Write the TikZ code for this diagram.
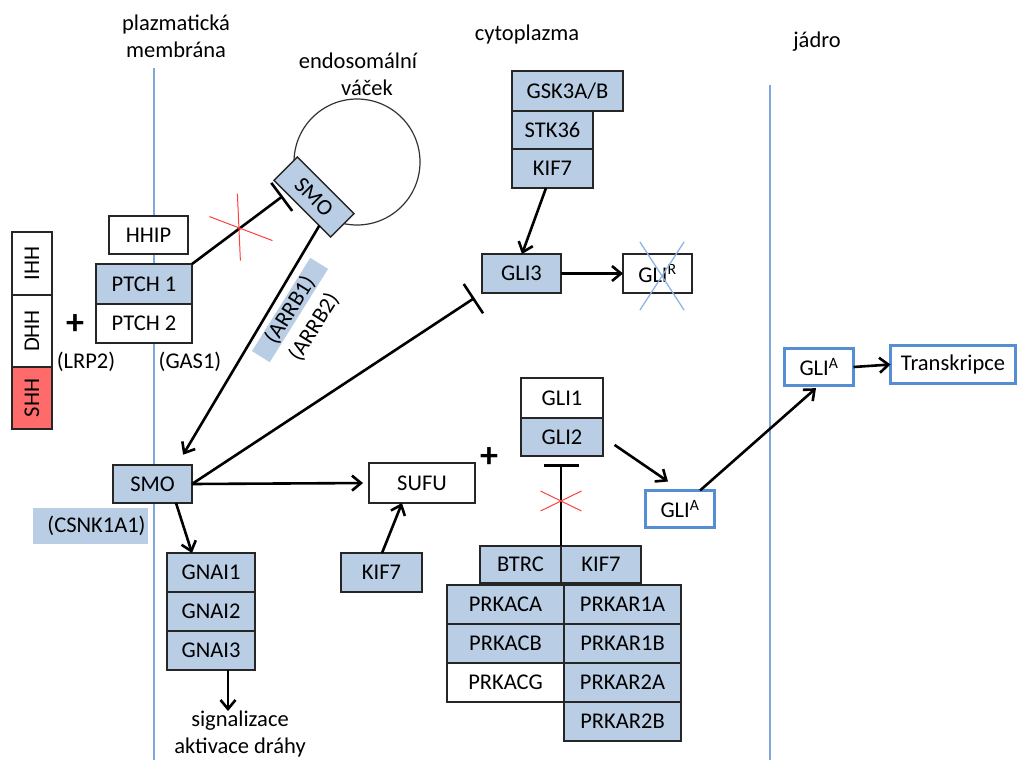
\documentclass[tikz,border=0pt]{standalone}
\usepackage{fontspec}
\setmainfont{Carlito}
\usetikzlibrary{positioning,calc,arrows.meta}

\definecolor{geneblue}{HTML}{B9CDE5}
\definecolor{gliblue}{HTML}{558ED5}
\definecolor{membblue}{HTML}{7FA7DC}
\definecolor{crossblue}{HTML}{8EB4E3}
\definecolor{shhred}{HTML}{FF6B6B}

\newcommand{\genefont}{\fontsize{22.5}{27}\selectfont}
\newcommand{\plusfont}{\bfseries\fontsize{36}{36}\selectfont}

\tikzset{
    gene/.style={draw=black!85, line width=1.4pt, fill=geneblue, outer sep=0pt,
        inner sep=0pt, minimum height=39pt, font=\genefont},
    plaingene/.style={gene, fill=white},
    glibox/.style={draw=gliblue, line width=3.5pt, fill=white, outer sep=0pt,
        inner sep=0pt, minimum height=37pt, font=\genefont},
    act/.style={line width=2.6pt, -{Straight Barb[length=9pt,width=15pt]}},
    inh/.style={line width=2.6pt, -{Bar[width=35pt]}},
    redcross/.style={red!75!white, line width=1pt},
    regiontext/.style={font=\genefont, align=center, inner sep=0pt}
}

\begin{document}
\begin{tikzpicture}[x=1pt, y=-1pt]
\useasboundingbox (0,0) rectangle (1024,760);

% membrana a jadro
\draw[membblue, line width=1.3pt] (154,68) -- (154,760);
\draw[membblue, line width=1.3pt] (770,85) -- (770,760);
\node[regiontext] (pmlab) at (176,36) {plazmatická\\membrána};
\node[regiontext] (endolab) at (358,74) {endosomální\\\hspace{18pt}váček};
\node[regiontext] (cytolab) at (527,35) {cytoplazma};
\node[regiontext] (nuclab) at (817,42) {jádro};

% endosom
\draw[black!80, line width=1.2pt] (357,162) circle[radius=63];
\node[gene, rotate=-45, minimum width=80pt, minimum height=33pt] (smoves) at (314,197) {SMO};

% ligandy
\node[plaingene, rotate=90, minimum width=63pt, minimum height=40pt] (ihh) at (32,263.5) {IHH};
\node[plaingene, rotate=90, minimum width=72pt, minimum height=40pt] (dhh) at (32,331) {DHH};
\node[gene, fill=shhred, rotate=90, minimum width=62pt, minimum height=40pt] (shh) at (32,398) {SHH};
\node[font=\plusfont] (plusa) at (75,325) {+};
\node[regiontext] (lrp) at (86,362) {(LRP2)};
\node[regiontext] (gas) at (190,362) {(GAS1)};

% receptory
\node[plaingene, minimum width=79pt, minimum height=38pt] (hhip) at (148.5,235) {HHIP};
\node[gene, minimum width=96pt, minimum height=40pt] (ptch1) at (144,284) {PTCH 1};
\node[plaingene, minimum width=96pt, below=0pt of ptch1] (ptch2) {PTCH 2};

\node[gene, minimum width=79pt, minimum height=38pt] (smo) at (152.5,484) {SMO};
\node[regiontext, fill=geneblue, minimum width=115pt, minimum height=36pt,
    text width=110pt, align=right] (csnk) at (90.5,526) {(CSNK1A1)};
\node[regiontext, fill=geneblue, rotate=58, minimum width=110pt, minimum height=21pt] (arrb1) at (290,310) {(ARRB1)};
\node[regiontext, rotate=58] (arrb2) at (314,327) {(ARRB2)};

% G proteiny
\node[gene, minimum width=88pt] (gnai1) at (211,572.5) {GNAI1};
\node[gene, minimum width=88pt, below=0pt of gnai1] (gnai2) {GNAI2};
\node[gene, minimum width=88pt, below=0pt of gnai2] (gnai3) {GNAI3};
\node[regiontext, anchor=north] (signal) at (240,711) {signalizace\\aktivace dráhy};

% cytoplazma
\node[plaingene, minimum width=106pt, minimum height=40pt] (sufu) at (422,483) {SUFU};
\node[gene, minimum width=81pt] (kifsufu) at (381.5,572.5) {KIF7};
\node[font=\plusfont] (plusb) at (489,458) {+};

\node[gene, minimum width=111pt, minimum height=40pt] (gsk) at (567.5,91) {GSK3A/B};
\node[gene, minimum width=81pt, minimum height=38pt, anchor=north west] (stk) at (gsk.south west) {STK36};
\node[gene, minimum width=81pt, below=0pt of stk] (kifgli) {KIF7};
\node[gene, minimum width=79pt] (gli3) at (521.5,273.5) {GLI3};
\node[plaingene, minimum width=69pt] (glir) at (657.5,273.5) {GLI\textsuperscript{R}};

\node[plaingene, minimum width=82pt, minimum height=40pt] (gli1) at (562,398) {GLI1};
\node[gene, minimum width=82pt, minimum height=38pt, below=0pt of gli1] (gli2) {GLI2};

\node[gene, minimum width=81pt, minimum height=37pt] (btrc) at (520.5,564.5) {BTRC};
\node[gene, minimum width=80pt, minimum height=37pt, right=0pt of btrc] (kifbtrc) {KIF7};
\node[gene, minimum width=117pt] (prkaca) at (505.5,604.5) {PRKACA};
\node[gene, minimum width=117pt, below=0pt of prkaca] (prkacb) {PRKACB};
\node[plaingene, minimum width=117pt, below=0pt of prkacb] (prkacg) {PRKACG};
\node[gene, minimum width=117pt, right=0pt of prkaca] (prkar1a) {PRKAR1A};
\node[gene, minimum width=117pt, below=0pt of prkar1a] (prkar1b) {PRKAR1B};
\node[gene, minimum width=117pt, below=0pt of prkar1b] (prkar2a) {PRKAR2A};
\node[gene, minimum width=117pt, below=0pt of prkar2a] (prkar2b) {PRKAR2B};

% aktivni GLI
\node[glibox, minimum width=69pt] (gliacyt) at (680,509) {GLI\textsuperscript{A}};
\node[glibox, minimum width=69pt] (glianuc) at (819,367) {GLI\textsuperscript{A}};
\node[glibox, minimum width=125pt, minimum height=38pt] (trans) at (953,364.5) {Transkripce};

% spojnice
\draw[inh, shorten >=5pt] (ptch1.north east) -- ($(smoves.south)!0.55!(smoves.south west)$)
    coordinate[pos=0.5] (ptchx);
\draw[redcross] ($(ptchx)+(-30,-12)$) -- ($(ptchx)+(33,12)$);
\draw[redcross] ($(ptchx)+(-2,-35)$) -- ($(ptchx)+(1,32)$);

\draw[act, shorten >=12pt] ($(smoves.south)!0.6!(smoves.south east)$) -- ([xshift=24.5pt]smo.north);
\draw[inh, shorten >=9pt] (smo.east) -- (gli3.south west);
\draw[act, shorten >=6pt] (smo.east) -- (sufu.west);
\draw[act] ([xshift=23.5pt]smo.south) -- ([xshift=-19pt]gnai1.north);
\draw[act] ([xshift=17pt]gnai3.south) -- ([xshift=17pt]gnai3.south |- signal.north);
\draw[act] ([xshift=0.5pt]kifsufu.north) -- ([xshift=-20pt]sufu.south);

\draw[act] ([xshift=-6.5pt]kifgli.south) -- ([xshift=0.5pt]gli3.north);
\draw[act] (gli3.east) -- (glir.west);
\draw[crossblue, line width=1.3pt] ($(glir.center)+(-17.5,-31.5)$) -- ($(glir.center)+(26.5,36.5)$);
\draw[crossblue, line width=1.3pt] ($(glir.center)+(26.5,-31.5)$) -- ($(glir.center)+(-17.5,36.5)$);

\draw[inh, shorten >=8pt] (btrc.north east) -- (btrc.north east |- gli2.south)
    coordinate[pos=0.5] (btrcx);
\draw[redcross] ($(btrcx)+(-20.5,-10)$) -- ($(btrcx)+(20.5,10)$);
\draw[redcross] ($(btrcx)+(-20.5,10)$) -- ($(btrcx)+(20.5,-10)$);

\draw[act, shorten <=14pt] (gli2.east) -- ($(gliacyt.north)+(-12,-9)$);
\draw[act, shorten >=4pt] ($(gliacyt.north)+(20,0)$) -- (glianuc.south);
\draw[act] (glianuc.east) -- (trans.west);
\end{tikzpicture}
\end{document}
